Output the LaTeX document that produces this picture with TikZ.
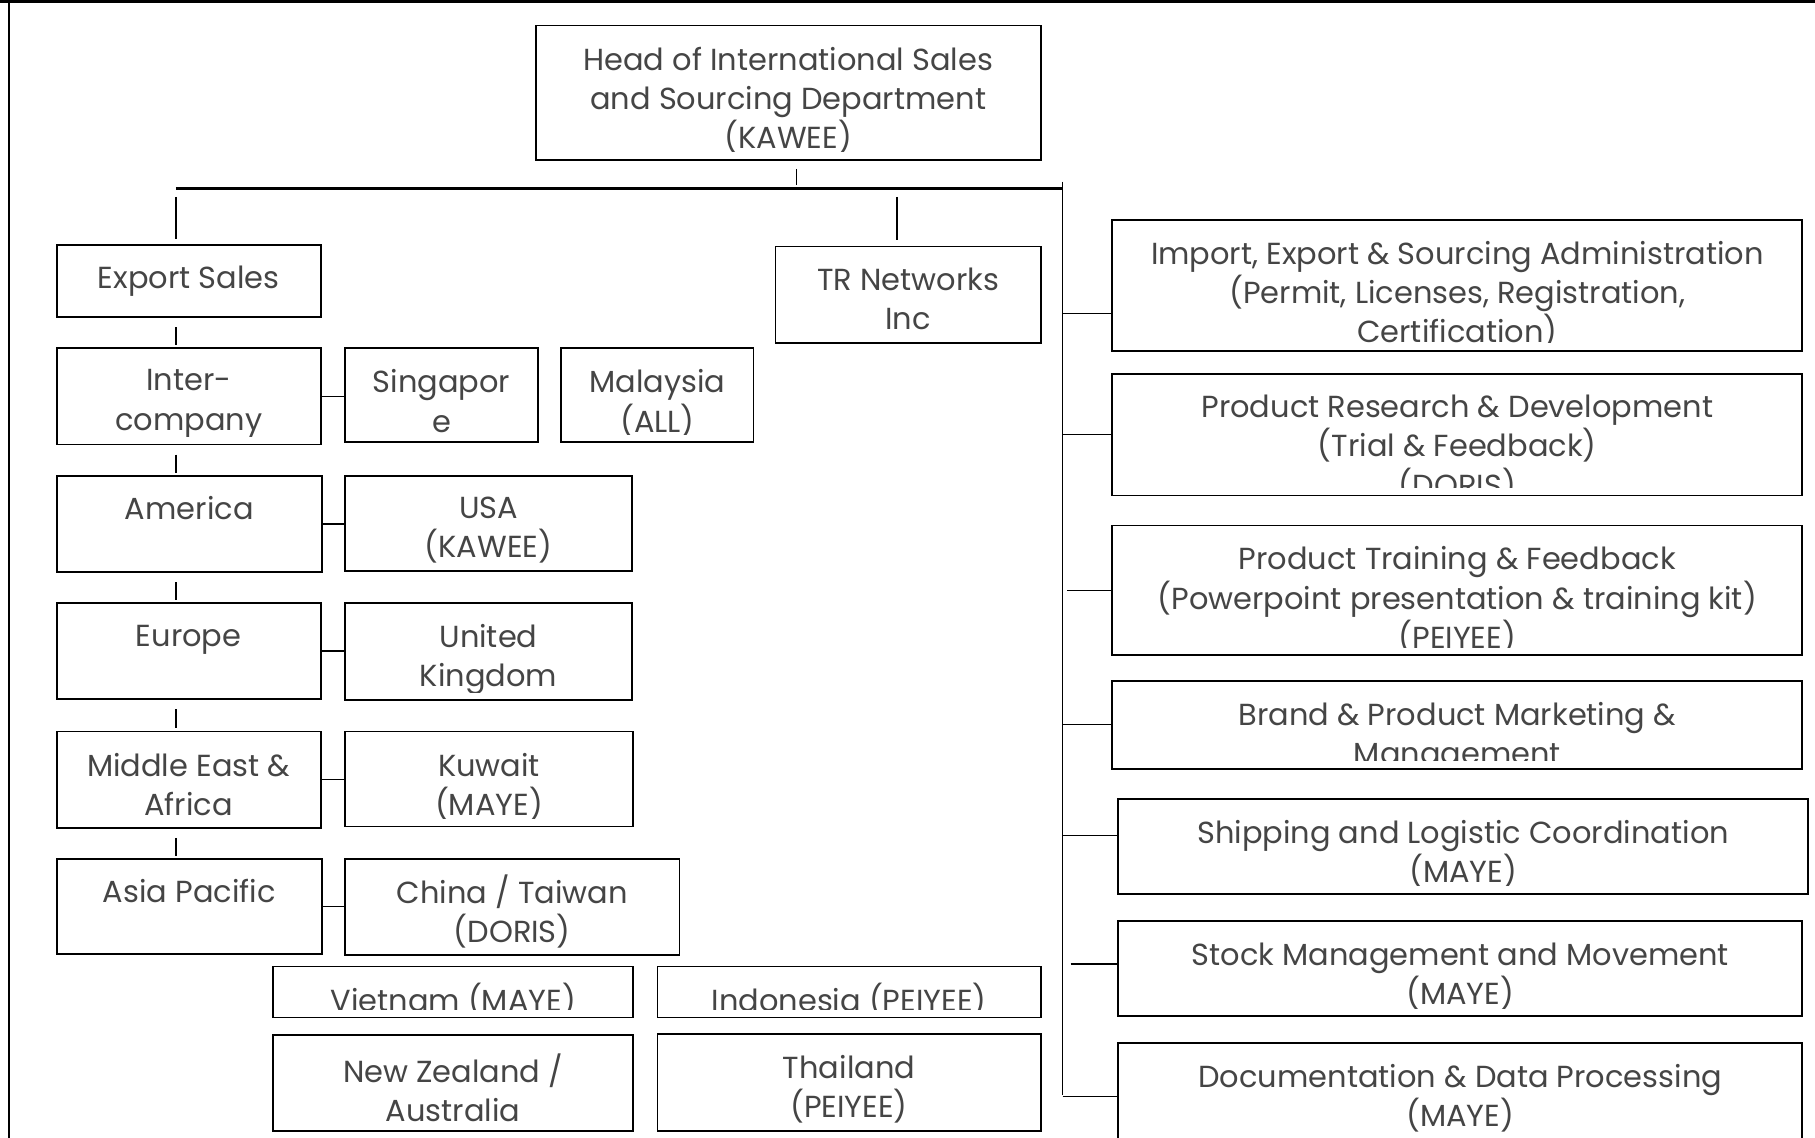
\documentclass[tikz,border=0pt]{standalone}
\usepackage{fontspec}
\setmainfont{Poppins}
\usetikzlibrary{fit,calc}
\definecolor{txtgray}{HTML}{454545}
\tikzset{
 orgbox/.style={draw=black, line width=1.6pt, inner sep=0pt},
 orgtxt/.style={inner sep=0pt, align=center, text=txtgray, font=\fontsize{26.3}{33.9}\selectfont, execute at begin node=\strut},
 link/.style={draw=black, line width=1.3pt},
 barline/.style={draw=black, line width=2.2pt}
}
\newcommand\obox[7][19]{%
 \coordinate (#2-a) at (#3,#4);
 \coordinate (#2-b) at (#5,#6);
 \node[orgbox, fit=(#2-a)(#2-b)] (#2) {};
 \begin{scope}
 \clip ($(#2.south west)+(0,-7.5)$) rectangle (#2.north east);
 \node[orgtxt, anchor=north] at ($(#2.north)+(0,#1)$) {#7};
 \end{scope}}
\begin{document}
\begin{tikzpicture}[x=1pt,y=-1pt]
\useasboundingbox (0,0) rectangle (1568,983);
\fill[white] (0,0) rectangle (1568,983);
% frame
\draw[line width=3pt] (0,1.5) -- (1568,1.5);
\draw[line width=1.6pt] (8,0) -- (8,983);
% boxes
\obox{head}{463}{22}{899}{138}{Head of International Sales\\and Sourcing Department\\(KAWEE)}
\obox[14.5]{es}{49}{212}{277}{274}{Export Sales}
\obox{tr}{670}{213}{899}{296}{TR Networks\\Inc}
\obox{inter}{49}{301}{277}{384}{Inter-\\company}
\obox{sing}{298}{301}{465}{382}{Singapor\\e}
\obox{mal}{485}{301}{651}{382}{Malaysia\\(ALL)}
\obox[14.5]{amer}{49}{411}{278}{494}{America}
\obox{usa}{298}{411}{546}{493}{USA\\(KAWEE)}
\obox[14.5]{eur}{49}{521}{277}{604}{Europe}
\obox{uk}{298}{521}{546}{605}{United\\Kingdom}
\obox{mea}{49}{632}{277}{715}{Middle East \&\\Africa}
\obox{kuw}{298}{632}{547}{714}{Kuwait\\(MAYE)}
\obox[14.5]{ap}{49}{742}{278}{824}{Asia Pacific}
\obox[14.5]{cn}{298}{742}{587}{825}{China / Taiwan\\(DORIS)}
\obox[14.5]{vn}{236}{835}{547}{879}{Vietnam (MAYE)}
\obox[14.5]{idn}{568}{835}{899}{879}{Indonesia (PEIYEE)}
\obox[17]{nz}{236}{894}{547}{977}{New Zealand /\\Australia}
\obox{th}{568}{893}{899}{977}{Thailand\\(PEIYEE)}
\obox{r1}{961}{190}{1557}{303}{Import, Export \& Sourcing Administration\\(Permit, Licenses, Registration,\\Certification)}
\obox{r2}{961}{323}{1557}{428}{Product Research \& Development\\(Trial \& Feedback)\\(DORIS)}
\obox{r3}{961}{454}{1557}{566}{Product Training \& Feedback\\(Powerpoint presentation \& training kit)\\(PEIYEE)}
\obox{r4}{961}{588}{1557}{664}{Brand \& Product Marketing \&\\Management}
\obox{r5}{966}{690}{1562}{772}{Shipping and Logistic Coordination\\(MAYE)}
\obox{r6}{966}{796}{1557}{878}{Stock Management and Movement\\(MAYE)}
\obox{r7}{966}{901}{1557}{1000}{Documentation \& Data Processing\\(MAYE)}
% connector coordinates
\coordinate (colx) at (152,163);
\coordinate (hx) at (688,163);
\coordinate (trx) at (775,163);
\coordinate (barL) at (152,163);
\coordinate (barR) at (918,163);
\coordinate (trunkT) at (918,157);
\coordinate (trunkB) at (918,946);
% top structure
\draw[barline] (barL) -- (barR);
\draw[link] (trunkT) -- (trunkB);
\draw[link, shorten <=7pt, shorten >=3pt] (head.south -| hx) -- (hx);
\draw[link, shorten <=7pt, shorten >=5pt] (barL) -- (es.north -| barL);
\draw[link, shorten <=7pt, shorten >=5pt] (trx) -- (tr.north -| trx);
% left column chain
\draw[link, shorten <=8pt, shorten >=2pt] (es.south -| colx) -- (inter.north -| colx);
\draw[link, shorten <=8pt, shorten >=2pt] (inter.south -| colx) -- (amer.north -| colx);
\draw[link, shorten <=8pt, shorten >=2pt] (amer.south -| colx) -- (eur.north -| colx);
\draw[link, shorten <=8pt, shorten >=2pt] (eur.south -| colx) -- (mea.north -| colx);
\draw[link, shorten <=8pt, shorten >=2pt] (mea.south -| colx) -- (ap.north -| colx);
% country links
\draw[link] (inter.east) -- (inter.east -| sing.west);
\draw[link] (amer.east) -- (amer.east -| usa.west);
\draw[link] (eur.east) -- (eur.east -| uk.west);
\draw[link] (mea.east) -- (mea.east -| kuw.west);
\draw[link] (ap.east) -- (ap.east -| cn.west);
% right column links
\coordinate (k1) at ($(r1.south west)+(0,-33)$);
\coordinate (k2) at (r2.west);
\coordinate (k3) at (r3.west);
\coordinate (k4) at (r4.west);
\coordinate (k5) at ($(r5.west)+(0,-9)$);
\coordinate (k6) at ($(r6.west)+(0,-4)$);
\coordinate (k7) at ($(r7.north west)+(0,47)$);
\draw[link] (k1 -| trunkT) -- (k1);
\draw[link] (k2 -| trunkT) -- (k2);
\draw[link, shorten <=4pt] (k3 -| trunkT) -- (k3);
\draw[link] (k4 -| trunkT) -- (k4);
\draw[link] (k5 -| trunkT) -- (k5);
\draw[link, shorten <=7pt] (k6 -| trunkT) -- (k6);
\draw[link] (k7 -| trunkT) -- (k7);
\end{tikzpicture}
\end{document}
